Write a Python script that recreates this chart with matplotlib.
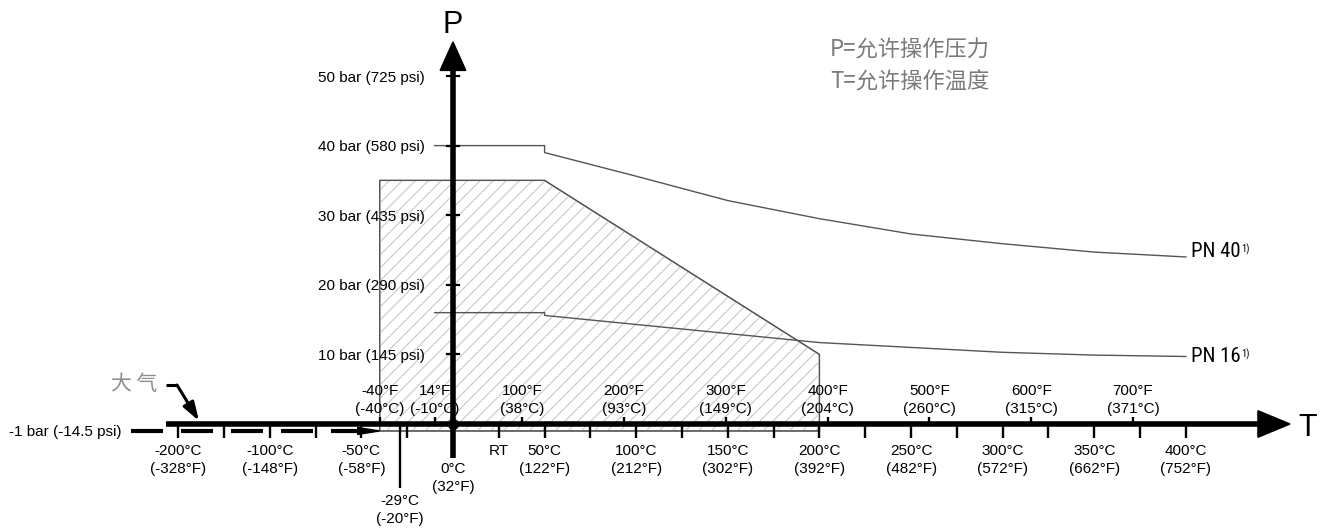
import numpy as np
import matplotlib
matplotlib.use("Agg")
import matplotlib.pyplot as plt
from matplotlib.patches import Polygon
from matplotlib.collections import LineCollection

plt.rcParams['font.family'] = ['Liberation Sans', 'DejaVu Sans']
CJK = ['Noto Sans CJK SC', 'DejaVu Sans']
NARROW = ['Roboto Condensed', 'Liberation Sans Narrow', 'Liberation Sans']

# ---- pressure axis (bar / psi) ----
P_TICKS = [10, 20, 30, 40, 50]
P_PSI = [145, 290, 435, 580, 725]
VAC_BAR, VAC_PSI = -1, -14.5

# ---- temperature axis ----
C_MAJOR = [-200, -100, -50, 50, 100, 150, 200, 250, 300, 350, 400]
C_MAJOR_F = [-328, -148, -58, 122, 212, 302, 392, 482, 572, 662, 752]
C_MINOR = [-200, -150, -100, -75, -50, -25, 25, 50, 75, 100, 125, 150, 175,
           200, 225, 250, 275, 300, 325, 350, 375, 400]
F_TOP = [-40, 14, 100, 200, 300, 400, 500, 600, 700]
F_TOP_C = [-40, -10, 38, 93, 149, 204, 260, 315, 371]
RT_C = 25
ZERO_C, ZERO_F = 0, 32
MIN_C, MIN_F = -29, -20

# ---- permitted operating range (hatched) ----
RANGE_T = [-40, -40, 50, 200, 200]
RANGE_P = [-1, 35, 35, 10, -1]

# ---- flange rating curves ----
PN_T = [-10, 50, 50, 100, 150, 200, 250, 300, 350, 400]
PN40_P = [40, 40, 39, 35.6, 32.1, 29.5, 27.3, 25.9, 24.7, 24.0]
PN16_P = [16, 16, 15.6, 14.3, 13.0, 11.7, 11.0, 10.3, 9.9, 9.7]


# the axis is compressed by half below -100 °C
def fwd(t):
    t = np.asarray(t, dtype=float)
    return np.where(t >= -100, t, -100 + (t + 100) / 2.0)


def inv(u):
    u = np.asarray(u, dtype=float)
    return np.where(u >= -100, u, -100 + (u + 100) * 2.0)


W, H = 1325, 530
fig = plt.figure(figsize=(W / 100, H / 100), dpi=100)
ax = fig.add_axes([0, 0, 1, 1])
ax.set_xscale('function', functions=(fwd, inv))
ax.set_xlim(float(inv(-247.2)), 475.9)
ax.set_ylim(-15.23, 60.92)
ax.axis('off')

FS = 11
AXW = 4.0

# hatched operating range
rng = Polygon(np.column_stack([RANGE_T, RANGE_P]), closed=True, facecolor='white',
              edgecolor='#555555', lw=0.9, zorder=1)
ax.add_patch(rng)
step = 13.0 / W
segs = [[(c, 0), (c + H / W, 1)] for c in np.arange(-1, 1.0, step)]
hatch = LineCollection(segs, colors='#c8c8c8', linewidths=0.8, transform=ax.transAxes, zorder=1.5)
hatch.set_clip_path(rng)
ax.add_collection(hatch)
ax.add_patch(Polygon(np.column_stack([RANGE_T, RANGE_P]), closed=True, fill=False,
                     edgecolor='#555555', lw=0.9, zorder=2))

# rating curves
ax.plot(PN_T, PN40_P, color='#555555', lw=1.0, zorder=2)
ax.plot(PN_T, PN16_P, color='#555555', lw=1.0, zorder=2)
for vals, name, dy in [(PN40_P, 'PN 40', 4), (PN16_P, 'PN 16', 0)]:
    t = ax.annotate(name, xy=(PN_T[-1], vals[-1]), xytext=(4, dy), textcoords='offset points',
                    ha='left', va='center', fontsize=15, family=NARROW)
    ax.annotate('1)', xy=(1, 1), xycoords=t, xytext=(0.2, -1), textcoords='offset points',
                ha='left', va='top', fontsize=7.5, family=NARROW)

# temperature axis with arrow
ax.plot([-213.2, 440], [0, 0], color='k', lw=AXW, solid_capstyle='butt', zorder=5)
ax.add_patch(Polygon([[439.3, 1.91], [456.8, 0], [439.3, -1.91]], closed=True,
                     color='k', zorder=5))
ax.text(466.6, 0, 'T', fontsize=22, ha='center', va='center_baseline')

# pressure axis with arrow
ax.plot([0, 0], [-4.9, 51.0], color='k', lw=AXW, solid_capstyle='butt', zorder=5)
ax.add_patch(Polygon([[-7.0, 50.8], [0, 54.9], [7.0, 50.8]], closed=True, color='k', zorder=5))
ax.text(0, 57.9, 'P', fontsize=22, ha='center', va='center_baseline')
ax.plot([0], [0], 'o', color='k', ms=7, zorder=6)

# pressure ticks and labels
for p, psi in zip(P_TICKS, P_PSI):
    ax.plot([-3.3, 3.3], [p, p], color='k', lw=1.6, zorder=6)
    ax.text(-15.3, p, f'{p} bar ({psi} psi)', fontsize=FS, ha='right', va='center_baseline')

# vacuum line at -1 bar
ax.text(float(inv(-181.0)), VAC_BAR, f'{VAC_BAR} bar ({VAC_PSI} psi)', fontsize=FS,
        ha='right', va='center_baseline')
ax.plot([-251.4, -51.8], [VAC_BAR, VAC_BAR], color='k', lw=3.0,
        dashes=(7.68, 4.32), dash_capstyle='butt', zorder=5)
ax.add_patch(Polygon([[-52.0, VAC_BAR + 0.5], [RANGE_T[0], VAC_BAR], [-52.0, VAC_BAR - 0.5]],
                     closed=True, color='k', zorder=5))

# lower (°C) ticks
for c in C_MINOR:
    ax.plot([c, c], [0, -2.0], color='k', lw=1.7, solid_capstyle='butt', zorder=5)
for c, f in zip(C_MAJOR, C_MAJOR_F):
    ax.text(c, -3.6, f'{c}°C', fontsize=FS, ha='center', va='center_baseline')
    ax.text(c, -6.2, f'({f}°F)', fontsize=FS, ha='center', va='center_baseline')
ax.text(RT_C, -3.6, 'RT', fontsize=FS, ha='center', va='center_baseline')
ax.text(ZERO_C, -6.2, f'{ZERO_C}°C', fontsize=FS, ha='center', va='center_baseline')
ax.text(ZERO_C, -8.8, f'({ZERO_F}°F)', fontsize=FS, ha='center', va='center_baseline')

# minimum temperature marker
ax.plot([MIN_C, MIN_C], [0, -9.2], color='k', lw=1.7, solid_capstyle='butt', zorder=5)
ax.text(MIN_C, -10.8, f'{MIN_C}°C', fontsize=FS, ha='center', va='center_baseline')
ax.text(MIN_C, -13.4, f'({MIN_F}°F)', fontsize=FS, ha='center', va='center_baseline')

# upper (°F) ticks
for f, c in zip(F_TOP, F_TOP_C):
    x = (f - 32) * 5 / 9
    ax.plot([x, x], [0, 1.0], color='k', lw=1.7, solid_capstyle='butt', zorder=5)
    ax.text(x, 4.9, f'{f}°F', fontsize=FS, ha='center', va='center_baseline')
    ax.text(x, 2.3, f'({c}°C)', fontsize=FS, ha='center', va='center_baseline')

# atmosphere pointer
ax.plot([-213.2, -201.2], [5.6, 5.6], color='k', lw=2.2, solid_capstyle='butt', zorder=5)
ax.annotate('', xy=(-177.2, 0.45), xytext=(-201.2, 5.6),
            arrowprops=dict(arrowstyle='-|>,head_length=0.55,head_width=0.18',
                            mutation_scale=20, lw=2.2, color='k', shrinkA=0, shrinkB=0),
            zorder=5)
ax.text(float(inv(-161.5)), 5.7, '大 气', fontsize=15, ha='right', va='center',
        color='#8c8c8c', family=CJK, fontweight='light')

# legend text
ax.text(205.7, 53.7, 'P=允许操作压力', fontsize=16, ha='left', va='center',
        color='#7a7a7a', family=CJK, fontweight='light')
ax.text(205.7, 49.1, 'T=允许操作温度', fontsize=16, ha='left', va='center',
        color='#7a7a7a', family=CJK, fontweight='light')

fig.savefig('out.png', dpi=100, facecolor='white')
